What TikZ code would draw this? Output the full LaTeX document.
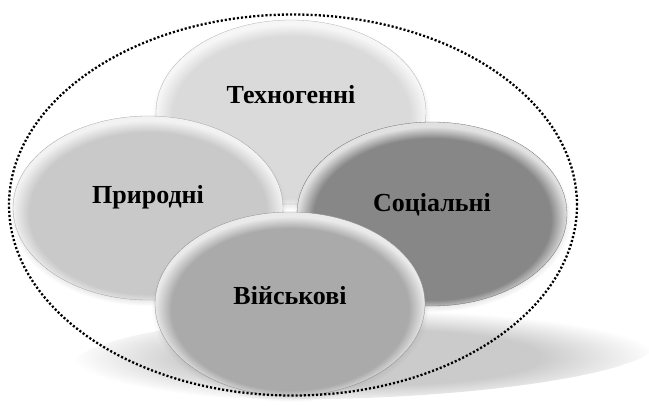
\documentclass[tikz,border=0pt]{standalone}
\usepackage{fontspec}
\setmainfont{Liberation Serif}[BoldFont={Liberation Serif Bold}]
\usetikzlibrary{shapes.geometric,shadows,fadings}

\definecolor{techgray}{RGB}{218,218,218}
\definecolor{natgray}{RGB}{201,201,201}
\definecolor{socgray}{RGB}{135,135,135}
\definecolor{milgray}{RGB}{170,170,170}
\definecolor{groundgray}{RGB}{203,203,203}

\pgfdeclareradialshading[bevelin,bevelout]{bevel}{\pgfpoint{0bp}{-2.5bp}}{%
  color(0bp)=(bevelin); color(22bp)=(bevelin); color(25bp)=(bevelout); color(50bp)=(bevelout)}
\pgfdeclareradialshading{groundfade}{\pgfpoint{0bp}{0bp}}{%
  color(0bp)=(groundgray); color(15bp)=(groundgray); color(25bp)=(white); color(50bp)=(white)}

\begin{document}
\begin{tikzpicture}[x=1pt, y=-1pt,
    bubble/.style={ellipse, minimum width=270pt, minimum height=184pt, inner sep=0pt,
      draw=#1!80!black, line width=.3pt,
      circular drop shadow={shadow scale=1.03, shadow xshift=0pt, shadow yshift=-3pt, opacity=.4},
      /utils/exec={\colorlet{bevelin}{#1}\colorlet{bevelout}{#1!25!white}},
      shade, shading=bevel},
    caption/.style={font=\fontsize{26}{30}\selectfont\bfseries, text=black, inner sep=0pt},
    border/.style={draw=black, line width=2.3pt, dash pattern=on 2.1pt off 2pt}]
      \useasboundingbox (0,0) rectangle (649,405);
      \shade[shading=groundfade, rotate around={2.2:(365,354)}] (365,354) ellipse [x radius=292, y radius=44];

      \node[bubble=techgray] (tech) at (291,112) {};
      \node[caption] (techtxt) at ([yshift=17pt]tech.center) {Техногенні};

      \node[bubble=natgray] (nat) at (148,208) {};
      \node[caption] (nattxt) at ([yshift=11pt]nat.center) {Природні};

      \node[bubble=socgray] (soc) at (432,214) {};
      \node[caption] (soctxt) at ([yshift=9pt]soc.center) {Соціальні};

      \node[bubble=milgray] (mil) at (290,304) {};
      \node[caption] (miltxt) at ([yshift=8pt]mil.center) {Військові};

      \node[ellipse, border, minimum width=568pt, minimum height=381pt, inner sep=0pt] (group) at (293,205) {};
    \end{tikzpicture}
\end{document}
